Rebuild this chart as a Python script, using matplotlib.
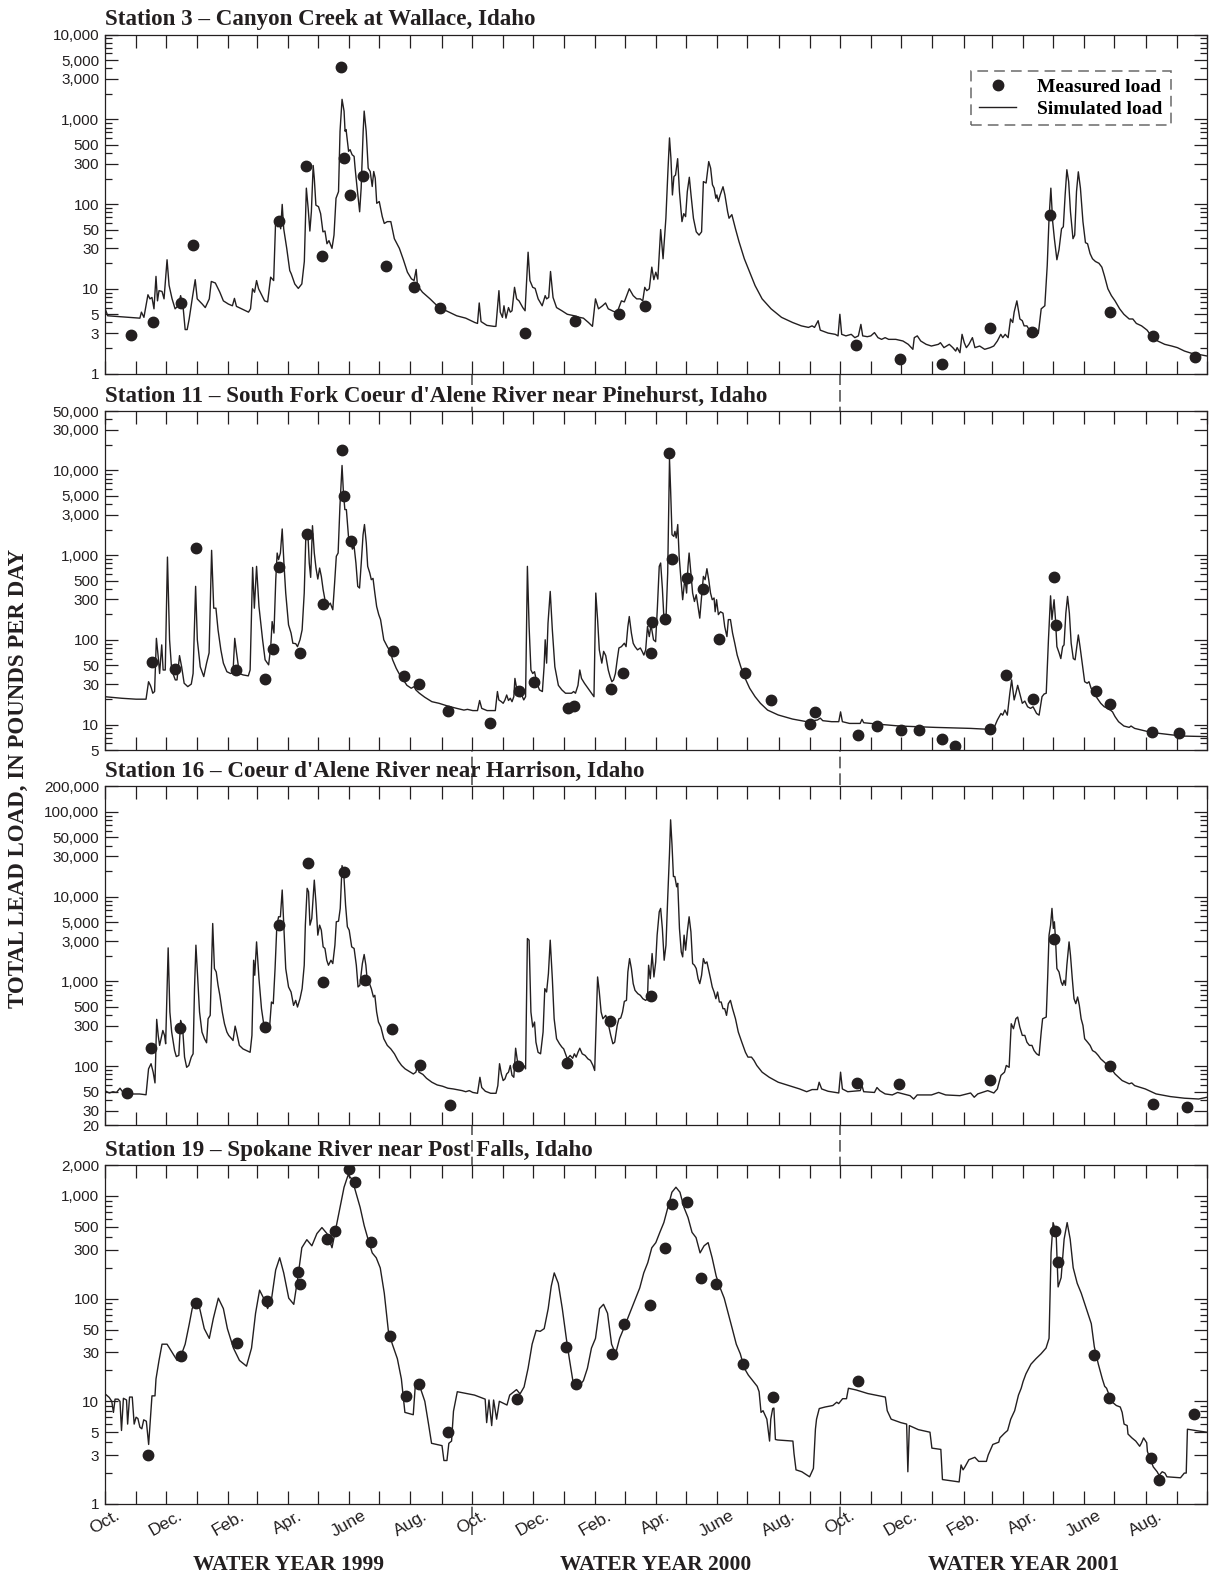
import matplotlib
matplotlib.use("Agg")
import matplotlib.pyplot as plt
import matplotlib.dates as mdates
from matplotlib.ticker import FixedLocator, LogLocator, FuncFormatter, NullFormatter
from matplotlib.lines import Line2D
import pandas as pd

# x values are days counted from 1 October 1998 (start of water year 1999)
start = pd.Timestamp("1998-10-01")
end = pd.Timestamp("2001-10-01")

# ---------------- Station 3 ----------------
s3_line_day = [0, 3, 24, 35, 36.5, 39, 43, 45, 47, 49,
    51, 52.5, 54, 57, 59, 62, 64, 67, 70, 73,
    75.5, 78, 80, 82, 84, 87, 90, 92, 97, 100,
    104, 106, 110, 114.5, 118, 123, 127, 129, 131, 136,
    143, 145, 147, 149, 151, 153, 159, 162, 165, 168,
    170, 172, 173.5, 175, 176.5, 178, 181, 184, 185.5, 189,
    192.5, 196, 198.5, 200.5, 202.3, 204, 205.5, 207.3, 208.4, 210,
    212.6, 214.7, 217, 219, 221, 223, 226, 228, 230, 232.5,
    234, 236, 238, 239, 240, 242.5, 244, 246, 248, 249,
    251, 253.5, 255, 257, 258, 260, 262, 264, 266, 267.5,
    269, 270.5, 273, 276, 278, 281, 284.5, 288, 293, 297,
    301, 305, 307.6, 309.7, 311, 316, 323.5, 332.4, 341, 350,
    359, 368, 370.7, 372.4, 374.2, 380, 387, 389, 392, 393.3,
    395.5, 397, 399, 401.5, 403.3, 405, 407.5, 409.6, 412, 415.7,
    418, 421, 422.8, 425.6, 428, 431, 435, 438, 439.4, 441.5,
    443.3, 445.8, 449.3, 454.6, 460, 467, 472, 476, 481, 485,
    488, 491, 495, 498, 500.7, 506, 509.6, 513.8, 516.7, 521.6,
    525.5, 529, 532.6, 535, 537, 539, 541.5, 544, 546, 548,
    550, 552.8, 555.2, 558, 560, 561.6, 563, 564.5, 566, 567.6,
    569.7, 571.5, 574, 575.8, 577.6, 579.3, 581.3, 583, 585.4, 588.2,
    591, 593.5, 595.3, 598, 600.6, 602.5, 604.3, 606, 607.7, 608.7,
    610.2, 612, 614.8, 616.7, 619.4, 620.8, 623.6, 627.2, 630.7, 636,
    641.3, 646.7, 653.7, 662.6, 673, 684, 692.7, 699.8, 703.4, 705.8,
    709.4, 711.5, 719.3, 726.4, 729.2, 731, 732.8, 737, 742.3, 745.9,
    749.4, 751.9, 753.7, 758.3, 761.8, 765.4, 768.9, 772.5, 776, 779.5,
    786.6, 793.7, 799, 803.6, 805, 808, 811.4, 816.8, 822, 829,
    831, 834.5, 839.8, 843.3, 846.2, 847.6, 850.4, 852.5, 854.7, 856.8,
    859.3, 862.8, 865.3, 870, 875, 880.5, 884, 887.6, 891, 893,
    895.4, 898.3, 900.7, 902.9, 904.3, 907, 910, 912.4, 914.2, 917,
    919.5, 923, 926.6, 928.4, 931.2, 934.8, 937.2, 939, 940.8, 942.6,
    944.3, 946.8, 948.9, 951.4, 953.2, 955, 956.7, 958.5, 960.3, 962.8,
    964.5, 966.3, 968.1, 970.2, 972.7, 975.2, 977.3, 979.8, 982.2, 985.1,
    988.6, 991.5, 994, 997.5, 1001, 1004.6, 1009.2, 1013.4, 1018.7, 1022.3,
    1025.8, 1031, 1036.5, 1041.8, 1047, 1054, 1061, 1066.6, 1073.7, 1080.8,
    1087.8, 1096]
s3_line_load = [6.0, 4.8, 4.6, 4.5, 5.3, 4.6, 8.5, 7.6, 7.9, 5.8,
    14, 7.2, 9.5, 9.3, 7.6, 22, 11, 7.6, 5.8, 6.3,
    8.3, 6.0, 3.3, 3.3, 4.4, 7.6, 12.8, 7.6, 6.6, 6.0,
    7.6, 12.2, 11.7, 9.1, 7.2, 6.6, 6.3, 7.7, 6.2, 5.8,
    5.3, 5.8, 10, 9.1, 12.5, 10, 7.2, 7.0, 13.7, 12.5,
    65, 54, 65, 51, 99, 51, 30, 16.4, 15, 11.4,
    10.1, 11.4, 21, 154, 89, 48, 81, 285, 202, 97,
    93, 77, 47, 48, 34, 37, 30, 43, 117, 140,
    723, 1720, 1250, 723, 757, 419, 438, 382, 365, 265,
    154, 81, 154, 723, 1250, 723, 265, 242, 161, 242,
    202, 102, 107, 71, 59, 62, 62, 39, 30, 22,
    15.7, 13.1, 12.5, 16.9, 10.9, 9.1, 7.6, 6.0, 5.4, 4.8,
    4.5, 4.0, 3.9, 6.8, 4.1, 3.7, 3.6, 3.6, 9.5, 5.3,
    4.6, 6.3, 4.5, 6.0, 5.3, 5.5, 10.4, 7.6, 7.2, 6.0,
    5.5, 27, 12.5, 10.4, 10.1, 7.6, 6.3, 8.3, 7.6, 7.9,
    16, 7.9, 6.0, 5.5, 5.0, 4.8, 4.6, 4.5, 4.0, 3.6,
    7.6, 5.8, 6.3, 6.8, 5.8, 5.4, 5.3, 7.2, 7.0, 10,
    8.3, 7.6, 7.6, 7.2, 10.4, 9.5, 10, 18, 12.8, 15.7,
    13, 50, 22.6, 68, 240, 603, 349, 128, 211, 220,
    343, 140, 62, 77, 71, 140, 207, 128, 68, 47,
    43, 47, 184, 177, 317, 265, 169, 154, 117, 128,
    107, 128, 160, 128, 81, 68, 75, 51, 36, 22.6,
    15.7, 10.9, 7.6, 5.8, 4.6, 4.0, 3.65, 3.5, 3.65, 3.5,
    4.2, 3.25, 3.0, 2.9, 2.78, 5.0, 2.9, 2.78, 2.9, 2.65,
    2.78, 3.8, 2.78, 2.72, 2.78, 3.04, 2.65, 2.53, 2.65, 2.53,
    2.53, 2.42, 2.21, 1.93, 2.65, 2.78, 2.42, 2.21, 2.11, 2.21,
    2.31, 2.02, 2.21, 2.02, 1.84, 2.02, 1.76, 2.9, 2.31, 2.02,
    2.21, 2.65, 2.02, 2.11, 1.93, 2.02, 2.11, 2.42, 2.9, 2.65,
    2.9, 2.65, 4.4, 4.0, 5.3, 7.2, 4.4, 4.2, 3.65, 3.65,
    3.25, 3.4, 2.78, 3.0, 5.8, 6.3, 18.9, 68, 154, 62,
    39, 22, 29, 51, 54, 128, 254, 184, 81, 39,
    43, 140, 240, 154, 62, 35, 34, 26, 22.6, 21,
    20, 18, 14.3, 10, 8.3, 7.2, 5.8, 5.0, 4.4, 4.4,
    3.9, 3.65, 3.25, 2.65, 2.42, 2.21, 2.11, 2.02, 1.84, 1.73,
    1.68, 1.61]
s3_meas_day = [26, 48, 75.5, 88, 173, 200, 216, 235, 238, 244, 257, 280, 308, 333,
    418, 468, 511, 537, 747, 791, 833, 880, 922, 940, 1000, 1042.5, 1084]
s3_meas_load = [2.85, 4.0, 6.8, 32.6, 63, 278, 24.3, 4170, 349, 128, 215, 18.8, 10.6, 5.9,
    3.0, 4.2, 5.1, 6.3, 2.15, 1.47, 1.28, 3.4, 3.1, 75, 5.3, 2.8, 1.56]

# ---------------- Station 11 ----------------
s11_line_day = [0, 17, 31.2, 41.1, 43.6, 45.4, 46.4, 47.8, 49.6, 51.4,
    53.5, 54.6, 56.7, 58.1, 60.2, 62.4, 64.5, 66.6, 70.2, 71.9,
    74.4, 76.5, 79, 82.6, 86.1, 87.9, 90.4, 92.1, 95, 98.5,
    101.3, 103.8, 106.3, 108.4, 110.6, 112.7, 115.5, 118, 121.5, 125.1,
    127.6, 129.3, 131.1, 133.9, 137.5, 142.8, 144.6, 147.1, 148.8, 151,
    153.4, 157, 159.5, 163, 165.1, 166.5, 168.3, 170.1, 171.5, 172.9,
    174.7, 176.5, 178.2, 180, 182.8, 185.3, 187.1, 189.9, 191.7, 194.2,
    196.3, 198.4, 199.9, 202, 203.4, 204.8, 206.6, 208.4, 210.1, 211.9,
    213.7, 215.4, 217.2, 219, 221.5, 224.3, 226.8, 228.6, 230.3, 232.1,
    233.9, 236, 237.4, 238.8, 240.3, 242.4, 244.5, 246.3, 248, 249.8,
    251.6, 253.4, 255.1, 256.9, 258.3, 260.1, 261.5, 263.6, 265.1, 266.8,
    268.6, 270.4, 272.5, 274.3, 277.5, 281, 283.8, 286.3, 289.9, 293.4,
    297, 300.5, 304.8, 307.6, 309.4, 312.9, 318.2, 325.3, 332.4, 341.2,
    350.1, 357.2, 360.7, 366, 370.7, 372.8, 374.9, 380.2, 388.4, 390.5,
    391.9, 394.4, 396.2, 398, 399.7, 401.5, 403.3, 405, 406.8, 407.9,
    409.3, 411.1, 413.2, 414.6, 416.7, 418.5, 420.3, 422, 423.8, 425.6,
    427.4, 429.8, 432.3, 435.2, 436.9, 438, 439.4, 440.8, 443, 445.1,
    447.6, 451.1, 454.6, 458.2, 464.2, 466.3, 468.1, 470.6, 472.4, 474.1,
    477, 480.5, 484, 486.5, 488.3, 490.1, 491.8, 494.3, 496.1, 498.2,
    500.7, 502.5, 504.3, 506, 507.8, 509.6, 511.3, 513.8, 516.7, 518.4,
    520.2, 521.6, 523.7, 525.5, 527.3, 529.8, 532.6, 534.4, 536.1, 537.9,
    539.7, 541.5, 543.2, 545.7, 547.8, 549.6, 551.4, 552.8, 554.5, 556.3,
    558.1, 559.8, 561.6, 562.7, 564.1, 565.9, 567, 568.3, 569.8, 571.2,
    573, 574.7, 576.9, 578.6, 580, 581.1, 582.9, 584.6, 586.4, 588.2,
    590, 591.7, 593.5, 595.3, 597, 598.8, 600.6, 602.4, 604.1, 605.9,
    607, 608.4, 610.2, 612.3, 614.8, 616.5, 618.7, 620.1, 622.2, 624.3,
    626.5, 628.9, 632.5, 636, 641.3, 646.7, 652, 659.1, 669.7, 683.9,
    698, 708.7, 711.5, 714, 722.8, 729.9, 731.7, 733.5, 740.6, 751.2,
    753, 754.7, 768.9, 790.2, 825.6, 861, 877, 884.1, 887.6, 891.2,
    892.9, 895.1, 897.5, 900, 901.8, 904.3, 906, 907.8, 910.7, 912.4,
    914.9, 917.7, 920.6, 923.1, 926.6, 929.1, 932, 934.1, 936.2, 938.4,
    940.5, 941.9, 944, 945.4, 946.8, 949, 950.7, 952.5, 953.9, 955.7,
    957.4, 959.2, 961, 963.1, 964.9, 966.6, 968.1, 969.8, 972, 974.4,
    976.9, 978.7, 980.8, 983.3, 986.9, 990.4, 993.9, 997.5, 1000, 1002.1,
    1004.6, 1008.1, 1013.4, 1018.7, 1020.5, 1024.1, 1031.1, 1038.2, 1048.9, 1063,
    1073.7, 1096]
s11_line_load = [21.3, 20.4, 19.9, 19.9, 32, 29, 26.8, 23.4, 24.5, 104,
    58, 40, 87, 44, 44, 946, 100, 44, 33.6, 33.6,
    65, 48, 30.7, 28, 30, 40, 427, 100, 48, 36.8,
    53, 70, 1136, 236, 236, 131, 76, 53, 42, 40,
    41, 104, 70, 40, 38.5, 37.5, 44, 714, 236, 735,
    247, 100, 58, 50.6, 83, 164, 120, 512, 1056, 883,
    1056, 2030, 805, 356, 150, 120, 91, 90, 83, 100,
    131, 356, 1520, 1820, 805, 545, 2220, 1056, 702, 521,
    702, 560, 390, 297, 247, 271, 226, 466, 966, 1056,
    3770, 11400, 5390, 3440, 3440, 1660, 1450, 1177, 1266, 805,
    427, 408, 805, 1740, 2290, 1388, 735, 612, 512, 530,
    356, 247, 198, 173, 100, 83, 73, 58, 46, 38.5,
    33.6, 29, 26.8, 28, 25.6, 23.4, 21, 18.6, 17.8, 16.5,
    15.5, 14.8, 15.1, 14.6, 14.6, 19.2, 15.5, 14.6, 14.6, 24.5,
    19.5, 18.6, 17.8, 19.5, 22.3, 19.2, 20.4, 18.6, 21.3, 35,
    28, 22.3, 21.3, 22.3, 19.5, 21.3, 735, 143, 44, 40,
    42, 30.7, 25.6, 24.5, 48, 100, 53, 157, 372, 131,
    48, 29, 25.6, 23.4, 23.4, 24.5, 23.4, 29, 44, 35,
    30.7, 26.8, 23.4, 21.3, 356, 173, 76, 53, 73, 65,
    44, 36.8, 32, 33.6, 40, 58, 80, 83, 91, 83,
    143, 188, 120, 91, 83, 76, 80, 73, 66, 76,
    143, 109, 150, 100, 95, 247, 735, 805, 408, 157,
    173, 612, 13400, 5930, 1740, 1660, 1905, 1590, 2290, 966,
    512, 297, 530, 356, 735, 1056, 612, 356, 283, 340,
    247, 180, 325, 560, 512, 690, 512, 356, 297, 311,
    214, 297, 198, 214, 206, 143, 109, 173, 173, 120,
    91, 66, 48, 36.8, 26.8, 21.3, 17.8, 14.8, 12.96, 11.6,
    10.8, 11.3, 11.9, 11.1, 10.8, 10.8, 14.1, 10.8, 10.3, 10.3,
    11.5, 10.5, 10.1, 9.6, 9.25, 9.0, 8.8, 9.0, 11.3, 13.5,
    12.9, 14.8, 12.9, 23.4, 33.6, 19.5, 23.4, 29, 21.3, 17.8,
    18.9, 16.2, 15.5, 16.2, 13.5, 12.9, 21.3, 22.9, 23.4, 100,
    330, 173, 297, 173, 83, 70, 60, 83, 87, 206,
    325, 206, 91, 60, 58, 83, 114, 83, 53, 32,
    30.7, 32, 26.8, 24.5, 20.4, 17.8, 16.2, 15.5, 14.8, 14.1,
    12.4, 10.8, 9.6, 9.25, 9.6, 9.0, 8.6, 8.2, 7.85, 7.5,
    7.3, 7.2]
s11_meas_day = [47.5, 69.5, 90.7, 130.4, 159.1, 167.3, 173.3, 194.2, 200.9, 216.9,
    236, 238.1, 244.5, 287, 298, 312.2, 341.2, 383.4, 412.1, 427,
    461, 467, 503.9, 514.9, 543.2, 543.9, 557, 561.6, 564.5, 579.3,
    595.3, 610.5, 637.1, 662.6, 700.9, 706.5, 748.7, 767.9, 792, 810,
    832.7, 845.8, 880.5, 895.8, 923.1, 943.6, 945.7, 985.8, 999.3, 1041.1, 1068.7]
s11_meas_load = [54, 45.7, 1211, 43.4, 34.5, 78, 721, 69, 1774, 263,
    17400, 5020, 1465, 74, 37.8, 29.9, 14.6, 10.5, 25.1, 31.8,
    15.5, 16.6, 26.5, 40.6, 70, 163, 175, 16100, 906, 535,
    396, 103, 40.3, 19.5, 10.1, 14.1, 7.5, 9.6, 8.6, 8.5,
    6.7, 5.6, 8.8, 38, 19.9, 545, 150, 24.9, 17.3, 8.2, 8.0]

# ---------------- Station 16 ----------------
s16_line_day = [0, 4.6, 8.2, 11.7, 15.2, 17.7, 22.3, 27.6, 34.7, 41.1,
    43.6, 46.1, 48.2, 50, 51.7, 53.2, 54.6, 56, 57.8, 59.5,
    60.6, 63.1, 64.8, 66.6, 69.5, 71.2, 73.7, 75.5, 77.3, 79.4,
    81.5, 83.6, 86.1, 87.9, 89.3, 90.7, 92.1, 94.3, 96.7, 99.2,
    101.3, 102.8, 104.9, 107.4, 109.1, 110.9, 112.7, 114.5, 116.9, 119.1,
    121.5, 123.3, 126.2, 127.6, 129.7, 131.1, 133.9, 137.5, 141, 144.6,
    146.4, 148.1, 149.2, 151, 153.4, 155.9, 158.8, 161.6, 163.7, 165.8,
    167.6, 169.4, 171.2, 172.9, 174.7, 176.5, 178.2, 180, 182.8, 185.3,
    187.8, 189.9, 191.7, 194.2, 196.3, 198.4, 199.5, 201.3, 202.7, 204.1,
    205.9, 208.4, 210.1, 211.9, 213.7, 215.4, 217.2, 219, 220.8, 222.5,
    225, 226.8, 228.9, 230.3, 232.5, 234.2, 236, 237.8, 239.5, 241.3,
    243.1, 245.6, 248, 250.2, 251.9, 253.7, 256.2, 258, 259.7, 261.5,
    263.3, 265.1, 267.2, 268.6, 270.4, 272.2, 274.6, 277.5, 281, 284.5,
    288.1, 291.6, 295.2, 298.7, 304, 306.9, 309.4, 311.1, 312.5, 316.4,
    320, 325.3, 330.6, 336, 341.2, 346.6, 355.4, 359, 362.5, 366,
    370.7, 373.1, 374.9, 378.5, 383.8, 389.1, 390.9, 392.6, 394.4, 396.2,
    398, 399.7, 401.5, 403.3, 405, 406.8, 408.6, 410.3, 412.8, 414.6,
    416.7, 418.5, 420.3, 422, 423.8, 425.6, 427.4, 428.8, 430.9, 433.4,
    435.9, 437.6, 439.4, 441.2, 443, 445.1, 446.9, 449.3, 452.2, 454.6,
    456.4, 458.2, 460, 462.8, 465.3, 467, 468.8, 470.6, 472.4, 474.8,
    477.7, 480.5, 483, 485.5, 487.2, 489, 490.1, 491.8, 493.6, 495.4,
    498.2, 500.7, 503.2, 505.3, 507.1, 509.6, 511.3, 513.1, 514.9, 516.7,
    518.8, 520.2, 521.9, 523.7, 525.5, 527.3, 530.1, 532.6, 535.1, 537.9,
    539.7, 540.8, 542.5, 544.3, 546.1, 547.9, 549.3, 551.4, 552.8, 554.5,
    556.3, 558.1, 559.8, 561.6, 562.7, 564.1, 565.5, 566.9, 568.7, 569.8,
    571.5, 573.3, 574.7, 576.1, 577.6, 579.3, 581.1, 582.9, 584.6, 586.4,
    588.2, 590, 591.7, 593.5, 595.3, 597, 598.8, 600.6, 602.4, 604.1,
    605.9, 607.7, 609.4, 611.2, 613, 614.8, 616.5, 618.3, 620.1, 622.2,
    624.3, 627.2, 630, 633.5, 637.1, 639.6, 643.1, 645.6, 648.4, 653.7,
    660.8, 669.7, 680.3, 691, 698, 703.4, 708.7, 710.4, 712.9, 719.3,
    729.9, 731.7, 733.5, 738.8, 751.2, 753, 754.7, 765.4, 767.9, 770.7,
    776, 783.1, 788.4, 800.8, 804.4, 807.9, 822.1, 829.2, 836.2, 850.4,
    861, 864.6, 868.1, 878, 884.1, 887.6, 891.2, 894.7, 896.5, 899.3,
    901.4, 903.6, 906, 907.8, 909.9, 912.4, 914.9, 917, 919.5, 922,
    924.1, 926.6, 929.1, 931.2, 932.6, 936.2, 937.6, 939, 940.5, 941.9,
    943.3, 944.3, 945.4, 946.8, 948.9, 951.1, 952.5, 953.9, 955.3, 956.7,
    958.9, 960.3, 962.1, 963.8, 965.6, 967.4, 969.1, 970.9, 972.7, 974.4,
    977.3, 979.8, 982.2, 985.1, 987.9, 990.4, 993.9, 997.5, 1001, 1004.6,
    1008.1, 1011.7, 1018.7, 1021.2, 1024.1, 1034.7, 1045.4, 1059.6, 1073.7, 1087.8,
    1096]
s16_line_load = [51.5, 48.3, 50, 49, 55, 50, 49, 47, 47, 46,
    93, 107, 85, 63.5, 357, 231, 176, 211, 264, 231,
    184, 2490, 436, 253, 153, 130, 134, 347, 303, 128,
    97, 102, 128, 140, 823, 2680, 1295, 436, 253, 211,
    189, 363, 398, 4830, 1420, 1295, 901, 686, 436, 317,
    253, 231, 211, 201, 297, 253, 176, 160, 153, 146,
    231, 1780, 1183, 2930, 1080, 477, 277, 253, 264, 572,
    547, 1420, 4620, 5800, 5800, 12000, 4220, 1420, 861, 751,
    522, 598, 499, 626, 823, 1554, 4620, 12560, 11460, 4620,
    5540, 15700, 8330, 3520, 4620, 4030, 2560, 2450, 1780, 1554,
    1780, 1626, 2680, 5060, 5150, 7280, 23300, 18000, 7970, 4420,
    4030, 2560, 2450, 1554, 861, 901, 1626, 2080, 1554, 901,
    943, 823, 656, 686, 436, 332, 290, 211, 176, 160,
    140, 117, 102, 93, 85, 81, 85, 102, 85, 80,
    72, 64.7, 60.1, 58, 55, 53.9, 51.5, 50, 51.5, 49,
    47.9, 74, 56, 50.6, 47.9, 47.9, 59, 107, 81, 67.7,
    70.8, 81, 85, 102, 78, 74, 163, 117, 97, 102,
    102, 93, 3210, 3070, 436, 290, 332, 192, 146, 140,
    253, 823, 751, 1238, 3070, 1080, 363, 211, 184, 168,
    160, 140, 122, 134, 124, 140, 128, 146, 163, 140,
    134, 122, 117, 102, 89, 436, 1130, 751, 436, 363,
    398, 317, 231, 184, 192, 303, 363, 370, 436, 582,
    598, 1295, 1862, 1420, 943, 786, 718, 686, 626, 598,
    626, 1554, 1080, 2135, 1130, 1702, 3520, 6640, 7280, 4220,
    1780, 2680, 9550, 32600, 80800, 40900, 17300, 17300, 13100, 14400,
    4220, 2230, 1950, 3520, 2340, 3850, 5800, 3850, 1626, 1554,
    1420, 1080, 943, 1183, 1862, 1626, 1702, 1360, 1080, 861,
    751, 626, 751, 572, 572, 477, 477, 398, 547, 598,
    477, 363, 253, 192, 146, 128, 128, 117, 102, 85,
    74, 64.7, 59, 53.9, 50, 53, 53, 64.7, 53.9, 50.6,
    48.3, 85, 53.9, 50, 51.5, 59, 50, 49, 56, 51.5,
    47.1, 45.8, 49, 44.9, 41, 45.8, 45.8, 49, 45.8, 44.9,
    48.3, 43, 47.1, 51.5, 48.3, 53.9, 78, 85, 102, 97,
    317, 277, 363, 380, 290, 231, 231, 192, 176, 176,
    153, 140, 134, 253, 363, 380, 1080, 3520, 4620, 7280,
    4220, 5060, 3210, 1420, 1295, 980, 901, 1030, 901, 1554,
    2930, 2040, 1080, 626, 547, 656, 522, 363, 303, 211,
    192, 176, 153, 146, 134, 122, 112, 102, 93, 81,
    74, 67.7, 62, 63.5, 59, 53.9, 47.1, 43.8, 41.9, 41,
    43]
s16_meas_day = [22.3, 46.4, 74.4, 159.5, 173.3, 202, 217.2, 238.1, 259, 285.6, 314, 343,
    411.4, 459.6, 502.1, 542.9, 747.7, 789.5, 880.5, 944.3, 1000, 1042.8, 1076.1]
s16_meas_load = [48.3, 163, 284, 290, 4600, 24800, 980, 19600, 1050, 277, 103, 34.8,
    100, 108, 337, 680, 63, 61.4, 69, 3210, 100, 36, 32.6]

# ---------------- Station 19 ----------------
s19_line_day = [0, 4.5, 7, 8.7, 10.3, 13.3, 15.2, 16.7, 18.6, 21.7,
    22.8, 24.7, 27.4, 29.3, 31.2, 33, 35, 36.9, 38.8, 41.4,
    43.7, 47, 50, 51, 54, 57, 62, 67, 72, 76,
    80, 84, 87, 90, 94, 99, 104, 108, 113, 118,
    122, 128, 134, 141, 146, 150, 154, 158, 162, 166,
    170, 174, 178, 183, 188, 192, 196, 201, 206, 211,
    216, 221, 226, 230, 234, 238, 242, 246, 250, 254,
    258, 262, 266, 270, 274, 278, 282, 286, 291, 295,
    298.5, 306.8, 309, 314.4, 318.3, 322, 325, 335.4, 337.3, 340.3,
    342.2, 344.9, 346.8, 350.6, 367.7, 378.3, 379.8, 382.1, 384.8, 386.7,
    389.7, 392.4, 400, 402.7, 409.5, 413, 417, 421, 425, 429,
    433, 437, 441, 444, 447, 451, 455, 459, 462, 466,
    471, 476, 480, 484, 488, 492, 496, 500, 504, 508,
    512, 516, 520, 524, 528, 532, 536, 540, 544, 548,
    552, 556, 560, 564, 568, 572, 576, 580, 584, 588,
    592, 596, 600, 604, 608, 612, 616, 620, 624, 628,
    632, 636, 640, 648.8, 650.7, 652.6, 654.6, 658.4, 661.1, 662.3,
    664.2, 665.4, 666.9, 669.2, 684.3, 685.4, 687.4, 693.2, 700.9, 704.7,
    706.7, 707.8, 710.5, 716.3, 724, 727.9, 729.8, 733.7, 737.6, 739.5,
    747.2, 758.8, 770.4, 776.2, 778.1, 782, 791.6, 797.4, 798.6, 800.1,
    809, 820.6, 822.5, 831.4, 833, 849.6, 851.5, 853.5, 855.4, 859.3,
    865.2, 869, 876.7, 878.5, 883.1, 889, 890.1, 894.8, 897.8, 900.9,
    904.8, 908.6, 911.3, 913.2, 916, 921, 926, 931, 936, 939,
    941, 943, 946, 948, 951, 954, 957, 960, 963, 967,
    971, 976, 981, 984, 988, 992, 994.3, 996.2, 998.2, 1002,
    1005.9, 1009.8, 1011.7, 1013.6, 1016.7, 1017.5, 1021.4, 1025.2, 1029.1, 1031,
    1033, 1036.1, 1036.8, 1039.9, 1042.6, 1046.5, 1048.4, 1051.5, 1054.2, 1056.2,
    1069.7, 1073.5, 1075.4, 1076.6, 1087, 1096]
s19_line_load = [11.9, 10.9, 10, 7.8, 10.5, 10.5, 10, 5.2, 10.7, 10.3,
    6.0, 11, 11, 6, 7, 6.8, 5.6, 5.4, 6.6, 6.4,
    3.8, 11.3, 11.3, 16.5, 25, 36, 36, 30, 25, 28,
    36, 56, 80, 94, 84, 51, 41, 64, 101, 80,
    51, 33, 25, 22, 33, 72, 121, 101, 80, 101,
    190, 250, 178, 101, 88, 159, 313, 375, 327, 430,
    492, 430, 313, 492, 773, 1216, 1596, 1455, 1062, 773,
    515, 375, 279, 250, 199, 113, 49, 36, 26, 16.5,
    7.8, 7.4, 15, 13, 10, 6, 3.9, 3.7, 2.65, 2.65,
    3.9, 4.1, 8, 12.4, 11.5, 10.5, 6.2, 10.3, 5.8, 10.3,
    6.7, 10, 9.2, 11.5, 13, 11.8, 13.8, 21, 36, 49,
    48, 51, 80, 132, 178, 141, 80, 41, 26, 14.8,
    13.8, 15.9, 21, 33, 41, 80, 88, 72, 36, 29,
    41, 51, 64, 80, 101, 127, 178, 224, 313, 351,
    442, 551, 773, 1087, 1216, 1087, 773, 617, 442, 393,
    279, 327, 351, 250, 166, 127, 101, 72, 51, 36,
    29, 21, 18, 14, 12.4, 7.8, 8.1, 6.7, 4.1, 6.7,
    8.5, 8.6, 4.25, 4.2, 4.1, 3.1, 2.15, 2.06, 1.84, 2.22,
    5.35, 6.7, 8.5, 8.8, 9.1, 9.8, 9.5, 10.6, 10.6, 13.4,
    12.9, 11.9, 11.3, 11.0, 8.1, 6.7, 6.2, 6.0, 2.06, 5.8,
    5.3, 5.0, 3.5, 3.4, 1.73, 1.64, 2.4, 2.15, 2.3, 2.7,
    2.85, 2.6, 2.6, 3.0, 3.8, 4.0, 4.4, 4.9, 5.2, 6.7,
    8.1, 11.5, 13.4, 15.6, 18.5, 23, 26, 29, 33, 41,
    280, 550, 440, 130, 160, 380, 550, 380, 200, 141,
    113, 80, 57, 34, 23, 16.5, 14, 13.4, 11.9, 9.8,
    9.1, 8.8, 7.8, 6.0, 5.8, 4.8, 4.4, 4.1, 3.65, 3.95,
    4.4, 3.95, 3.25, 2.7, 2.3, 2.06, 1.9, 2.06, 2.0, 1.84,
    1.8, 2.0, 2.0, 5.35, 5.15, 5.0]
s19_meas_day = [43.3, 76, 91, 132, 161, 192, 194, 221, 229, 243, 249, 265, 284,
    299.2, 312.5, 341, 410.3, 459, 468.4, 504, 516, 542, 557, 564, 579, 593, 608,
    635, 664.2, 749.1, 945, 948, 984, 998.9, 1040.7, 1048.4, 1083.2]
s19_meas_load = [3.0, 27.8, 90, 37, 94, 180, 140, 384, 460, 1827, 1362, 358, 43,
    11.3, 14.6, 5.0, 10.6, 34, 14.6, 29, 56, 86, 313, 828, 865, 159, 139,
    23, 10.9, 15.8, 460, 229, 28, 10.8, 2.8, 1.7, 7.5]

titles = ["Station 3 \u2013 Canyon Creek at Wallace, Idaho",
          "Station 11 \u2013 South Fork Coeur d'Alene River near Pinehurst, Idaho",
          "Station 16 \u2013 Coeur d'Alene River near Harrison, Idaho",
          "Station 19 \u2013 Spokane River near Post Falls, Idaho"]
y_ticks = [[1, 3, 5, 10, 30, 50, 100, 300, 500, 1000, 3000, 5000, 10000],
           [5, 10, 30, 50, 100, 300, 500, 1000, 3000, 5000, 10000, 30000, 50000],
           [20, 30, 50, 100, 300, 500, 1000, 3000, 5000, 10000, 30000, 50000, 100000, 200000],
           [1, 3, 5, 10, 30, 50, 100, 300, 500, 1000, 2000]]
y_limits = [(1, 10000), (5, 50000), (20, 200000), (1, 2000)]
month_names = {10: "Oct.", 12: "Dec.", 2: "Feb.", 4: "Apr.", 6: "June", 8: "Aug."}
water_years = ["WATER YEAR 1999", "WATER YEAR 2000", "WATER YEAR 2001"]

series = [(s3_line_day, s3_line_load, s3_meas_day, s3_meas_load),
          (s11_line_day, s11_line_load, s11_meas_day, s11_meas_load),
          (s16_line_day, s16_line_load, s16_meas_day, s16_meas_load),
          (s19_line_day, s19_line_load, s19_meas_day, s19_meas_load)]


def to_date(days):
    return start + pd.to_timedelta(days, unit="D")


def month_label(x, pos):
    d = mdates.num2date(x)
    if d.year == 2001 and d.month == 10:
        return ""
    return month_names.get(d.month, "")


ink = "#231f20"
serif = "Liberation Serif"
sans = "Liberation Sans"

fig = plt.figure(figsize=(12.09, 15.78), dpi=100)
left, width, height = 0.0866, 0.9117, 0.2148
bottoms = [0.7633, 0.5247, 0.2868, 0.0469]

axes = []
for i in range(4):
    ax = fig.add_axes([left, bottoms[i], width, height])
    ld, ll, md, ml = series[i]
    ax.plot(to_date(ld), ll, color=ink, lw=1.0)
    ax.plot(to_date(md), ml, "o", color=ink, ms=7.5, mec=ink)
    ax.set_yscale("log")
    ax.set_ylim(*y_limits[i])
    ax.set_xlim(start, end)
    ax.yaxis.set_major_locator(FixedLocator(y_ticks[i]))
    ax.yaxis.set_major_formatter(FuncFormatter(lambda v, p: f"{v:,.0f}"))
    ax.yaxis.set_minor_locator(LogLocator(base=10, subs=(2, 3, 4, 5, 6, 7, 8, 9), numticks=100))
    ax.yaxis.set_minor_formatter(NullFormatter())
    ax.xaxis.set_major_locator(mdates.MonthLocator())
    ax.xaxis.set_minor_locator(FixedLocator([]))
    ax.tick_params(which="both", direction="in", top=True, right=True, color=ink, width=0.9)
    ax.tick_params(which="major", length=9.5)
    ax.tick_params(which="minor", length=5)
    ax.tick_params(axis="y", labelsize=11, pad=4, labelcolor=ink, labelfontfamily=sans)
    for sp in ax.spines.values():
        sp.set_color(ink)
        sp.set_linewidth(0.9)
    if i < 3:
        ax.tick_params(axis="x", labelbottom=False)
    else:
        ax.xaxis.set_major_formatter(FuncFormatter(month_label))
        ax.tick_params(axis="x", labelsize=12.5, pad=3, labelcolor=ink,
                       labelrotation=30, labelfontfamily=sans)
    ax.text(0, 1.028, titles[i], transform=ax.transAxes, ha="left", va="baseline",
            fontfamily=serif, fontweight="bold", fontsize=16.6, color=ink)
    axes.append(ax)

# legend in the top panel
handles = [Line2D([], [], ls="none", marker="o", color=ink, ms=7.5),
           Line2D([], [], color=ink, lw=1.0)]
leg = axes[0].legend(handles, ["Measured load", "Simulated load"], loc="upper right",
                     bbox_to_anchor=(0.967, 0.893), frameon=True, fancybox=False,
                     edgecolor="#444444", borderpad=0.4, handlelength=1.9,
                     handletextpad=1.1, labelspacing=0.2, borderaxespad=0,
                     prop={"family": serif, "weight": "bold", "size": 14})
leg.get_frame().set_linestyle((0, (7, 4)))
leg.get_frame().set_linewidth(1.1)

# dashed water-year dividers, visible only between the panels
total_days = (end - start).days
for d in ["1999-10-01", "2000-10-01"]:
    frac = (pd.Timestamp(d) - start).days / total_days
    x = left + width * frac
    fig.add_artist(Line2D([x, x], [0.027, bottoms[0]], transform=fig.transFigure,
                          color="#555555", lw=1.2, ls=(0, (7, 3)), zorder=-1))

# water-year captions centred under each year
wy_bounds = ["1998-10-01", "1999-10-01", "2000-10-01", "2001-10-01"]
for k in range(3):
    a = (pd.Timestamp(wy_bounds[k]) - start).days
    b = (pd.Timestamp(wy_bounds[k + 1]) - start).days
    x = left + width * (a + b) / 2 / total_days
    fig.text(x, 0.0085, water_years[k], ha="center", va="center", fontfamily=serif,
             fontweight="bold", fontsize=15.5, color=ink)

fig.text(0.0155, 0.507, "TOTAL LEAD LOAD, IN POUNDS PER DAY", rotation=90,
         ha="center", va="center", fontfamily=serif, fontweight="bold",
         fontsize=16.5, color=ink)

fig.savefig("out.png", dpi=100)
